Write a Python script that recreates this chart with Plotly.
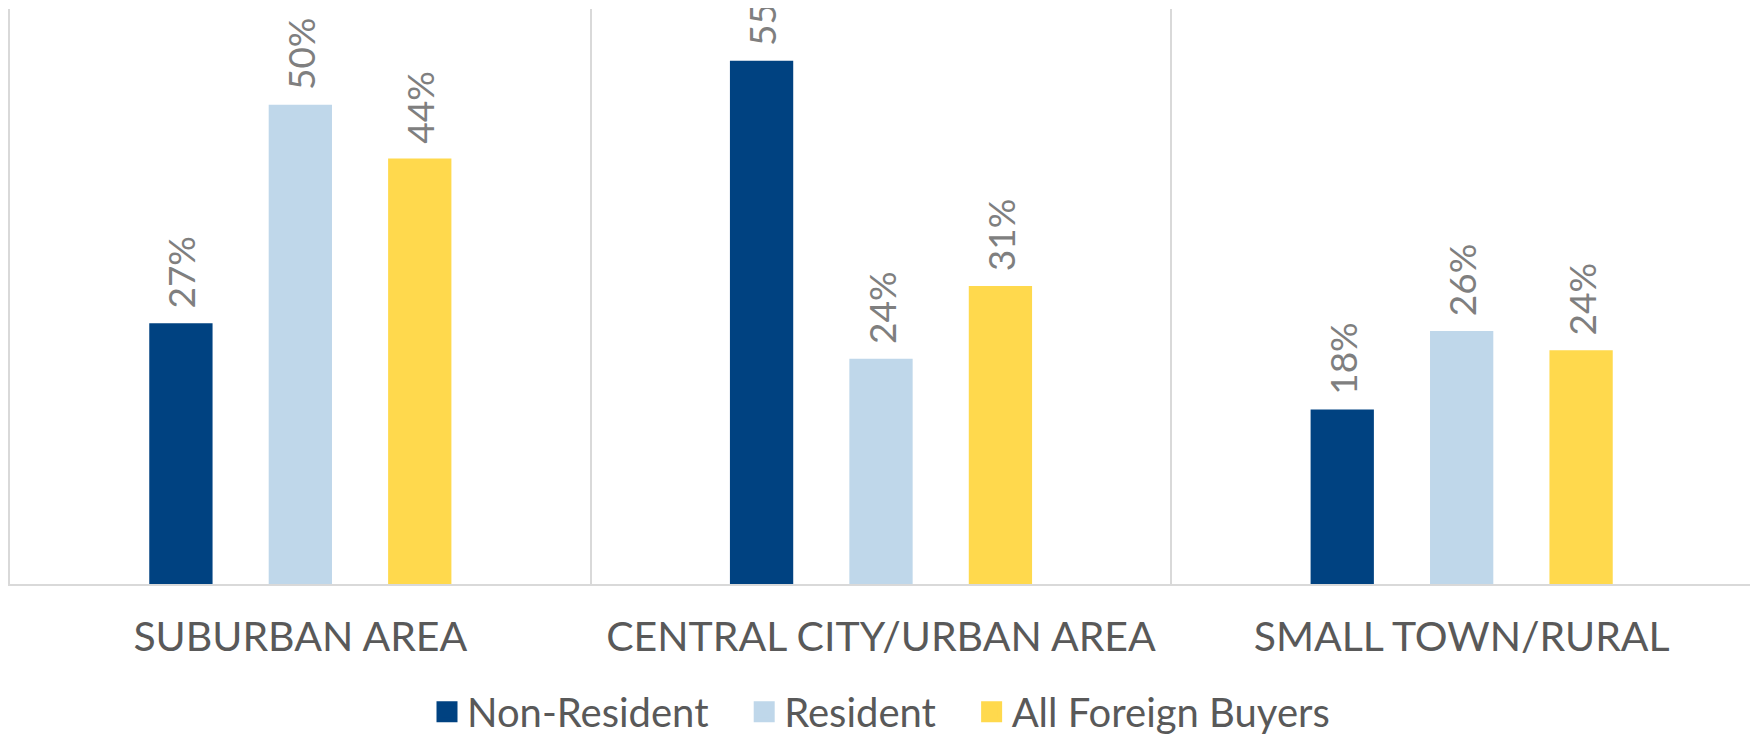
import plotly.graph_objects as go

categories = ["SUBURBAN AREA", "CENTRAL CITY/URBAN AREA", "SMALL TOWN/RURAL"]
# bar heights (labels show them rounded)
non_resident = [27.2, 54.6, 18.2]
resident = [50.0, 23.5, 26.4]
all_foreign = [44.4, 31.1, 24.4]
series_names = ["Non-Resident", "Resident", "All Foreign Buyers"]
colors = ["#004281", "#BFD7EA", "#FFD94D"]

fig = go.Figure()
for name, vals, col in zip(series_names, [non_resident, resident, all_foreign], colors):
    fig.add_trace(go.Bar(
        x=categories, y=vals, name=name, showlegend=False, legendgroup=name,
        marker=dict(color=col, line=dict(width=0)),
        texttemplate="\u00a0\u200a%{y:.0f}%",
        textposition="outside", textangle=-90, constraintext="none",
        cliponaxis=False,
        textfont=dict(family="Lato", size=37, color="#7F7F7F"),
    ))

# legend entries (larger square swatches)
pad = "\u00a0" * 3
for i, (name, col) in enumerate(zip(series_names, colors)):
    label = name + (pad if i < len(series_names) - 1 else "")
    fig.add_trace(go.Scatter(
        x=[categories[0]], y=[None], mode="markers", name=label, legendgroup=name,
        marker=dict(symbol="square", size=16, color=col, line=dict(color=col, width=5)),
        hoverinfo="skip",
    ))

# the page body has an 8px margin, so the figure is 8px smaller than the window
fig.update_layout(
    width=1750, height=728,
    margin=dict(l=2, r=6, t=1, b=152, autoexpand=False),
    paper_bgcolor="white", plot_bgcolor="white",
    barmode="group", bargap=0.383, bargroupgap=0.47,
    showlegend=True,
    legend=dict(orientation="h", x=0.5, xanchor="center", y=-0.222, yanchor="middle",
                font=dict(family="Lato", size=40, color="#595959"),
                itemwidth=30, traceorder="normal"),
    xaxis=dict(type="category", tickson="boundaries", showgrid=True, automargin=False,
               gridcolor="#D9D9D9", gridwidth=2, showline=True, linecolor="#D9D9D9",
               linewidth=2, ticks="", range=[-0.5, 2.5], ticklabelstandoff=16,
               tickfont=dict(family="Lato", size=41, color="#595959")),
    yaxis=dict(range=[0, 60], showgrid=False, showticklabels=False, zeroline=False,
               automargin=False,
               showline=True, mirror=True, linecolor="#D9D9D9", linewidth=2, ticks=""),
)
fig.write_html("out.html")
